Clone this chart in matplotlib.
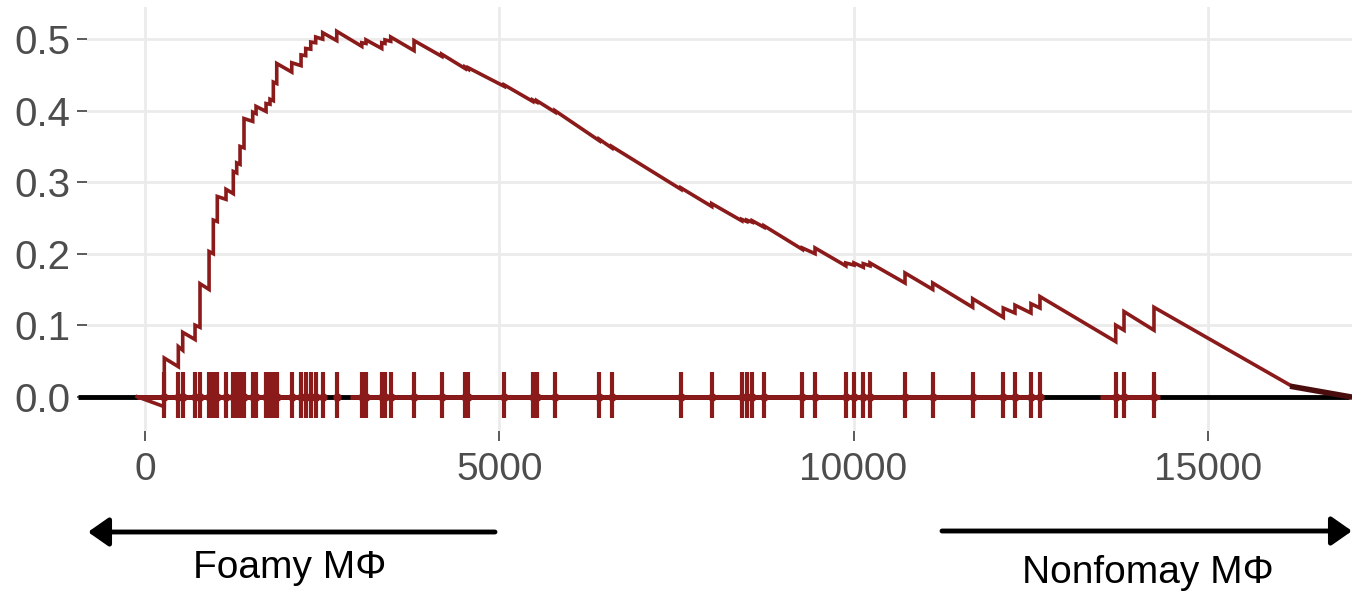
import matplotlib
matplotlib.use("Agg")
import matplotlib.pyplot as plt

# gene hit positions in the ranked list
hit_pos = [272, 470, 532, 706, 776, 904, 964, 1020, 1143, 1246, 1294, 1341, 1397,
           1520, 1567, 1708, 1764, 1811, 1859, 2071, 2202, 2268, 2339, 2409, 2508,
           2706, 3059, 3119, 3341, 3387, 3468, 3797, 4188, 4517, 4563, 5071, 5472,
           5529, 5787, 6412, 6587, 7565, 7999, 8422, 8493, 8572, 8737, 9278, 9457,
           9891, 10007, 10138, 10233, 10727, 11118, 11682, 12114, 12279, 12505,
           12632, 13701, 13818, 14241]
# running score just before and just after each hit
score_before = [-0.014, 0.042, 0.065, 0.080, 0.097, 0.150, 0.200, 0.245, 0.276, 0.284,
                0.313, 0.325, 0.348, 0.385, 0.396, 0.399, 0.409, 0.414, 0.438, 0.454,
                0.463, 0.477, 0.486, 0.495, 0.500, 0.498, 0.490, 0.494, 0.487, 0.494,
                0.497, 0.484, 0.476, 0.459, 0.458, 0.434, 0.413, 0.412, 0.398, 0.358,
                0.348, 0.290, 0.266, 0.246, 0.245, 0.244, 0.237, 0.206, 0.200, 0.183,
                0.184, 0.181, 0.183, 0.159, 0.150, 0.125, 0.111, 0.117, 0.117, 0.124,
                0.077, 0.093, 0.093]
score_after = [0.054, 0.070, 0.090, 0.100, 0.158, 0.203, 0.247, 0.280, 0.290, 0.315,
               0.327, 0.350, 0.389, 0.398, 0.406, 0.410, 0.416, 0.440, 0.466, 0.467,
               0.478, 0.487, 0.496, 0.503, 0.509, 0.511, 0.495, 0.499, 0.495, 0.499,
               0.503, 0.498, 0.479, 0.461, 0.460, 0.436, 0.415, 0.414, 0.400, 0.360,
               0.350, 0.292, 0.270, 0.248, 0.247, 0.246, 0.239, 0.208, 0.208, 0.187,
               0.187, 0.186, 0.187, 0.173, 0.159, 0.137, 0.124, 0.128, 0.130, 0.140,
               0.100, 0.119, 0.125]
start_pt = (-113, 0.0)
tail_pts = [(16200, 0.014)]
end_pt = (17000, 0.0)

# stretches of the zero line drawn in red (rest stays black)
red_spans = [(-113, 2200), (2900, 12680), (13480, 14330)]

x_ticks = [0, 5000, 10000, 15000]
y_ticks = [0.0, 0.1, 0.2, 0.3, 0.4, 0.5]

red = "#8b1a1a"
dark = "#4a0d0d"
grey = "#4d4d4d"

fig = plt.figure(figsize=(13.61, 5.95), dpi=100)
ax = fig.add_axes([87 / 1361, 1 - 431 / 595, (1352 - 87) / 1361, (431 - 7) / 595])
ax.set_xlim(-819, 17036)
ax.set_ylim(-0.048, 0.545)

for s in ax.spines.values():
    s.set_visible(False)
ax.set_xticks(x_ticks)
ax.set_yticks(y_ticks)
ax.set_xticklabels([str(t) for t in x_ticks])
ax.set_yticklabels(["%.1f" % t for t in y_ticks])
ax.grid(True, color="#ebebeb", lw=2.0, zorder=0)
ax.set_axisbelow(True)
ax.tick_params(axis="both", colors=grey, labelsize=28, length=7, width=1.3)
ax.tick_params(axis="y", pad=5, labelsize=29)
ax.tick_params(axis="x", pad=8)
for lab in ax.get_xticklabels() + ax.get_yticklabels():
    lab.set_family(["Liberation Sans", "DejaVu Sans"])

# zero line
ax.plot([-946, end_pt[0]], [0, 0], color="black", lw=3.5, clip_on=False, zorder=2,
        solid_capstyle="butt")
for a, b in red_spans:
    ax.plot([a, b], [0, 0], color=red, lw=3.5, zorder=3, solid_capstyle="butt")

# rug of hits
ax.vlines(hit_pos, -0.030, 0.034, color=red, lw=3, zorder=4)
ax.plot(hit_pos, [0] * len(hit_pos), "o", color=red, ms=5, zorder=4)

# running enrichment score
xs = [start_pt[0]]
ys = [start_pt[1]]
for p, b, a in zip(hit_pos, score_before, score_after):
    xs += [p, p]
    ys += [b, a]
for p, v in tail_pts:
    xs.append(p)
    ys.append(v)
ax.plot(xs, ys, color=red, lw=2.6, zorder=5, solid_joinstyle="miter")
ax.plot([tail_pts[-1][0], end_pt[0]], [tail_pts[-1][1], end_pt[1]], color=dark,
        lw=4, zorder=5)

# direction arrows and labels below
arrow_kw = dict(arrowstyle="-|>,head_length=0.5,head_width=0.35", color="black",
                lw=3.5, mutation_scale=25, shrinkA=0, shrinkB=0)
ax.annotate("", xy=(88, 595 - 532), xytext=(495, 595 - 532),
            xycoords="figure pixels", textcoords="figure pixels", arrowprops=arrow_kw)
ax.annotate("", xy=(1352, 595 - 531), xytext=(942, 595 - 531),
            xycoords="figure pixels", textcoords="figure pixels", arrowprops=arrow_kw)
fig.text(290 / 1361, 1 - 578 / 595, "Foamy MΦ", ha="center", va="baseline",
         fontsize=28, family=["Liberation Sans", "DejaVu Sans"], color="black")
fig.text(1148 / 1361, 1 - 583 / 595, "Nonfomay MΦ", ha="center", va="baseline",
         fontsize=28, family=["Liberation Sans", "DejaVu Sans"], color="black")

fig.savefig("out.png", dpi=100, facecolor="white")
